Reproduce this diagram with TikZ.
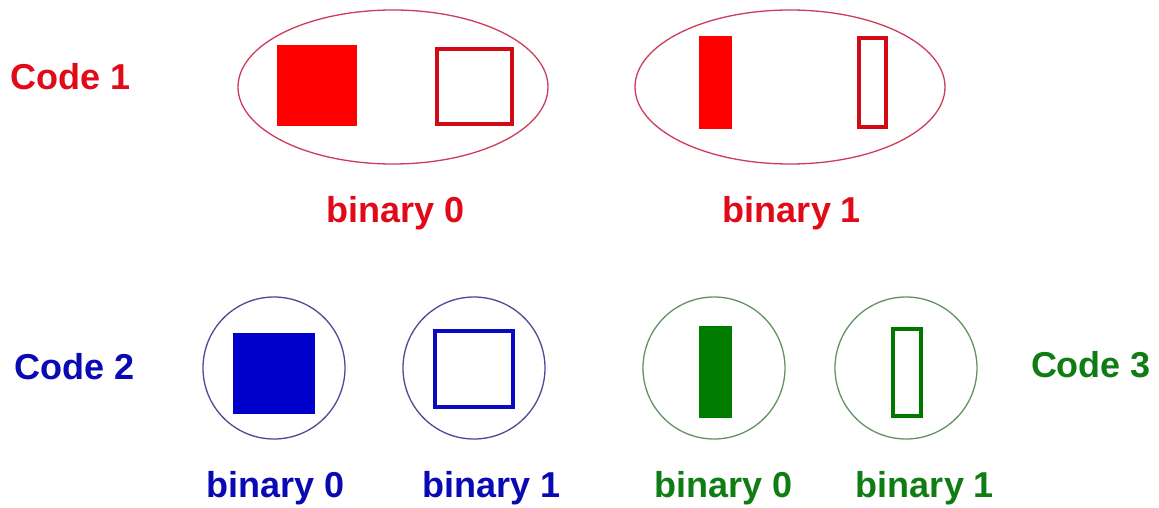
\documentclass[tikz,border=0pt]{standalone}
\usepackage{fontspec}
\setmainfont{Liberation Sans}
\usetikzlibrary{shapes.geometric}
\definecolor{redfill}{RGB}{255,0,0}
\definecolor{redline}{RGB}{210,10,20}
\definecolor{redtext}{RGB}{225,10,25}
\definecolor{redring}{RGB}{205,60,90}
\definecolor{bluefill}{RGB}{0,0,205}
\definecolor{blueline}{RGB}{10,10,195}
\definecolor{bluetext}{RGB}{10,10,180}
\definecolor{bluering}{RGB}{80,70,150}
\definecolor{greenfill}{RGB}{0,125,0}
\definecolor{greenline}{RGB}{0,120,0}
\definecolor{greentext}{RGB}{15,125,20}
\definecolor{greenring}{RGB}{100,145,100}
\begin{document}
\begin{tikzpicture}[x=1pt,y=-1pt,
  lbl/.style={anchor=base,font=\fontsize{36}{40}\selectfont\bfseries,inner sep=0pt},
  oval/.style={draw=redring,line width=1.3pt,ellipse,inner sep=0pt,minimum width=310pt,minimum height=154pt},
  ring/.style={circle,line width=1.3pt,inner sep=0pt,minimum size=142pt},
  solid box/.style={rectangle,inner sep=0pt,draw=none},
  open box/.style={rectangle,inner sep=0pt,line width=4pt,fill=white}]
\path[use as bounding box,fill=white] (0,0) rectangle (1159,508);
% Code 1
\node[lbl,text=redtext] (code1) at (71,90) {Code 1};
\node[oval] (e1) at (393,87) {};
\node[oval] (e2) at (790,87) {};
\node[solid box,fill=redfill,minimum width=80pt,minimum height=81pt] (r1) at (317,85.5) {};
\node[open box,draw=redline,minimum width=75pt,minimum height=75pt] (r2) at (474.5,86.5) {};
\node[solid box,fill=redfill,minimum width=33pt,minimum height=93pt] (r3) at (715.5,82.5) {};
\node[open box,draw=redline,minimum width=27pt,minimum height=89pt] (r4) at (872.5,82.5) {};
\node[lbl,text=redtext] (b10) at (396,222) {binary 0};
\node[lbl,text=redtext] (b11) at (792,222) {binary 1};
% Code 2
\node[lbl,text=bluetext] (code2) at (75,379) {Code 2};
\node[ring,draw=bluering] (c1) at (274,368) {};
\node[ring,draw=bluering] (c2) at (474,368) {};
\node[solid box,fill=bluefill,minimum width=82pt,minimum height=81pt] (s1) at (274,373.5) {};
\node[open box,draw=blueline,minimum width=78pt,minimum height=76pt] (s2) at (474,369) {};
\node[lbl,text=bluetext] (b20) at (275.5,497) {binary 0};
\node[lbl,text=bluetext] (b21) at (492,497) {binary 1};
% Code 3
\node[lbl,text=greentext] (code3) at (1091,377) {Code 3};
\node[ring,draw=greenring] (c3) at (714,368) {};
\node[ring,draw=greenring] (c4) at (906,368) {};
\node[solid box,fill=greenfill,minimum width=33pt,minimum height=92pt] (g1) at (715.5,372) {};
\node[open box,draw=greenline,minimum width=28pt,minimum height=87pt] (g2) at (907,372.5) {};
\node[lbl,text=greentext] (b30) at (724,497) {binary 0};
\node[lbl,text=greentext] (b31) at (925,497) {binary 1};
\end{tikzpicture}
\end{document}
